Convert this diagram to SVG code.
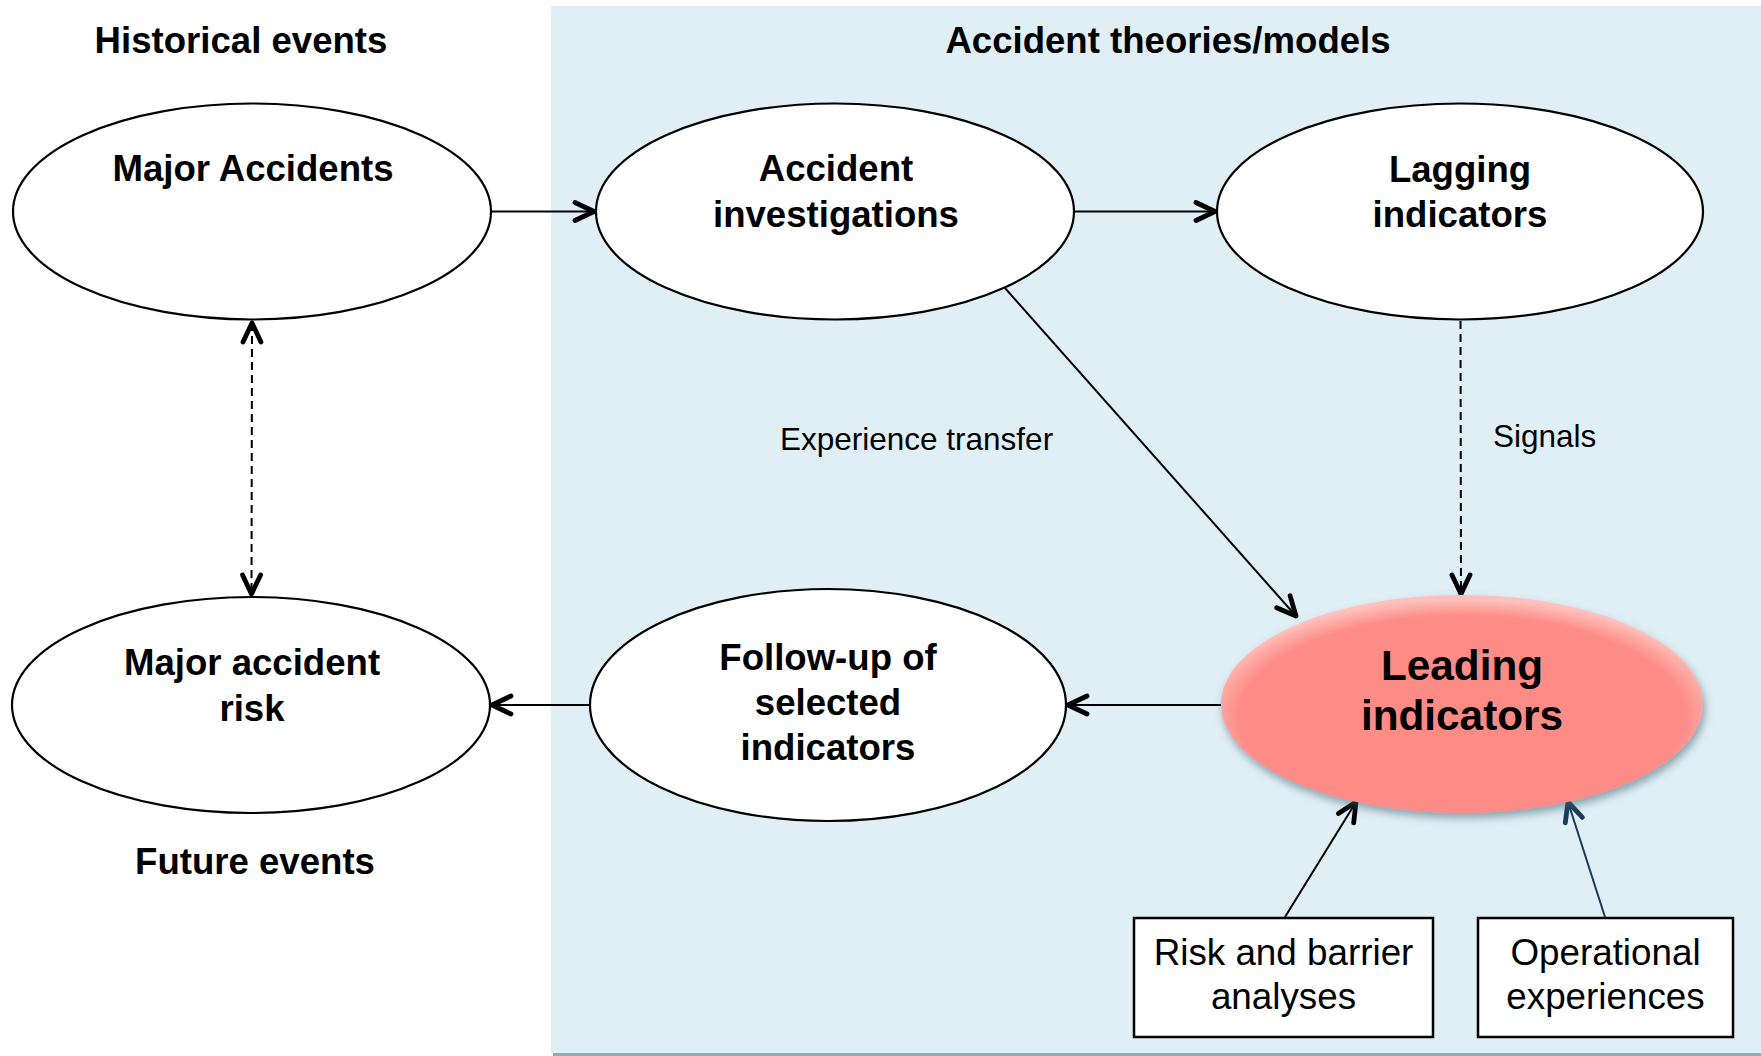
<svg xmlns="http://www.w3.org/2000/svg" width="1761" height="1056" viewBox="0 0 1761 1056">
<style>
.node{fill:#ffffff;stroke:#000000;stroke-width:2.2}
.box{fill:#ffffff;stroke:#000000;stroke-width:2.5}
.tb{font-family:"Liberation Sans",Arial,sans-serif;font-weight:bold;font-size:36.6px;fill:#000;text-anchor:middle}
.tr{font-family:"Liberation Sans",Arial,sans-serif;font-size:36.8px;fill:#000;text-anchor:middle}
.lbl{font-family:"Liberation Sans",Arial,sans-serif;font-size:31.5px;fill:#000}
.c{fill:none;stroke:#000;stroke-width:2}
.d{fill:none;stroke:#000;stroke-width:2;stroke-dasharray:8 5}
</style>
<defs>
<marker id="ah" markerUnits="userSpaceOnUse" viewBox="-24 -14 28 28" refX="0" refY="0" markerWidth="28" markerHeight="28" orient="auto-start-reverse">
<path d="M-19,-9 L0,0 L-19,9" fill="none" stroke="#000" stroke-width="4.8" stroke-linecap="round" stroke-linejoin="round"/>
</marker>
<marker id="ahn" markerUnits="userSpaceOnUse" viewBox="-24 -14 28 28" refX="0" refY="0" markerWidth="28" markerHeight="28" orient="auto-start-reverse">
<path d="M-19,-9 L0,0 L-19,9" fill="none" stroke="#1b3a57" stroke-width="4.8" stroke-linecap="round" stroke-linejoin="round"/>
</marker>
<radialGradient id="lg" cx="50%" cy="56%" r="54%">
<stop offset="0" stop-color="#fd8a85"/>
<stop offset="0.86" stop-color="#fd8c87"/>
<stop offset="1" stop-color="#ffbfba"/>
</radialGradient>
<filter id="sh" x="-10%" y="-10%" width="125%" height="130%">
<feDropShadow dx="2" dy="5" stdDeviation="4" flood-color="#3f6570" flood-opacity="0.55"/>
</filter>
</defs>

<rect x="553" y="1053" width="1208" height="3" fill="#8eafb8"/>
<rect x="551" y="6" width="1210" height="1047" fill="#e0eff6"/>

<text class="tb" x="241" y="53">Historical events</text>
<text class="tb" x="1168" y="53">Accident theories/models</text>
<text class="tb" x="255" y="874">Future events</text>

<g id="connectors">
<line class="c" x1="491" y1="211.5" x2="594" y2="211.5" marker-end="url(#ah)"/>
<line class="c" x1="1075" y1="211.5" x2="1215" y2="211.5" marker-end="url(#ah)"/>
<line class="c" x1="1005" y1="288" x2="1296" y2="616" marker-end="url(#ah)"/>
<line class="d" x1="1460.5" y1="321" x2="1461" y2="594" marker-end="url(#ah)"/>
<line class="d" x1="252" y1="323" x2="251.5" y2="594" marker-start="url(#ah)" marker-end="url(#ah)"/>
<line class="c" x1="1222" y1="705" x2="1068" y2="705" marker-end="url(#ah)"/>
<line class="c" x1="590" y1="705" x2="492" y2="705" marker-end="url(#ah)"/>
<line class="c" x1="1285" y1="917" x2="1356" y2="802" marker-end="url(#ah)"/>
<line x1="1605" y1="917" x2="1568" y2="802" stroke="#1b3a57" stroke-width="2" marker-end="url(#ahn)"/>
<text class="lbl" x="780" y="450">Experience transfer</text>
<text class="lbl" x="1493" y="447">Signals</text>
</g>

<g id="major-accidents">
<ellipse class="node" cx="252" cy="211.5" rx="239" ry="108"/>
<text class="tb" x="253" y="181">Major Accidents</text>
</g>

<g id="accident-investigations">
<ellipse class="node" cx="835" cy="211.5" rx="239" ry="108"/>
<text class="tb" x="836" y="181">Accident</text>
<text class="tb" x="836" y="227">investigations</text>
</g>

<g id="lagging-indicators">
<ellipse class="node" cx="1460" cy="211.5" rx="243" ry="108"/>
<text class="tb" x="1460" y="182">Lagging</text>
<text class="tb" x="1460" y="227">indicators</text>
</g>

<g id="major-accident-risk">
<ellipse class="node" cx="251" cy="705" rx="239" ry="108"/>
<text class="tb" x="252" y="675">Major accident</text>
<text class="tb" x="252" y="721">risk</text>
</g>

<g id="follow-up">
<ellipse class="node" cx="828" cy="705" rx="238" ry="116"/>
<text class="tb" x="828" y="670">Follow-up of</text>
<text class="tb" x="828" y="715">selected</text>
<text class="tb" x="828" y="760">indicators</text>
</g>

<g id="leading-indicators">
<ellipse cx="1462" cy="704" rx="241" ry="109" fill="url(#lg)" filter="url(#sh)"/>
<text class="tb" x="1462" y="680" style="font-size:42.3px">Leading</text>
<text class="tb" x="1462" y="730" style="font-size:42.3px">indicators</text>
</g>

<g id="risk-barrier">
<rect class="box" x="1134" y="918" width="299" height="119"/>
<text class="tr" x="1283.5" y="965">Risk and barrier</text>
<text class="tr" x="1283.5" y="1009">analyses</text>
</g>

<g id="operational-experiences">
<rect class="box" x="1478" y="918" width="255" height="119"/>
<text class="tr" x="1605.5" y="965">Operational</text>
<text class="tr" x="1605.5" y="1009">experiences</text>
</g>
</svg>
